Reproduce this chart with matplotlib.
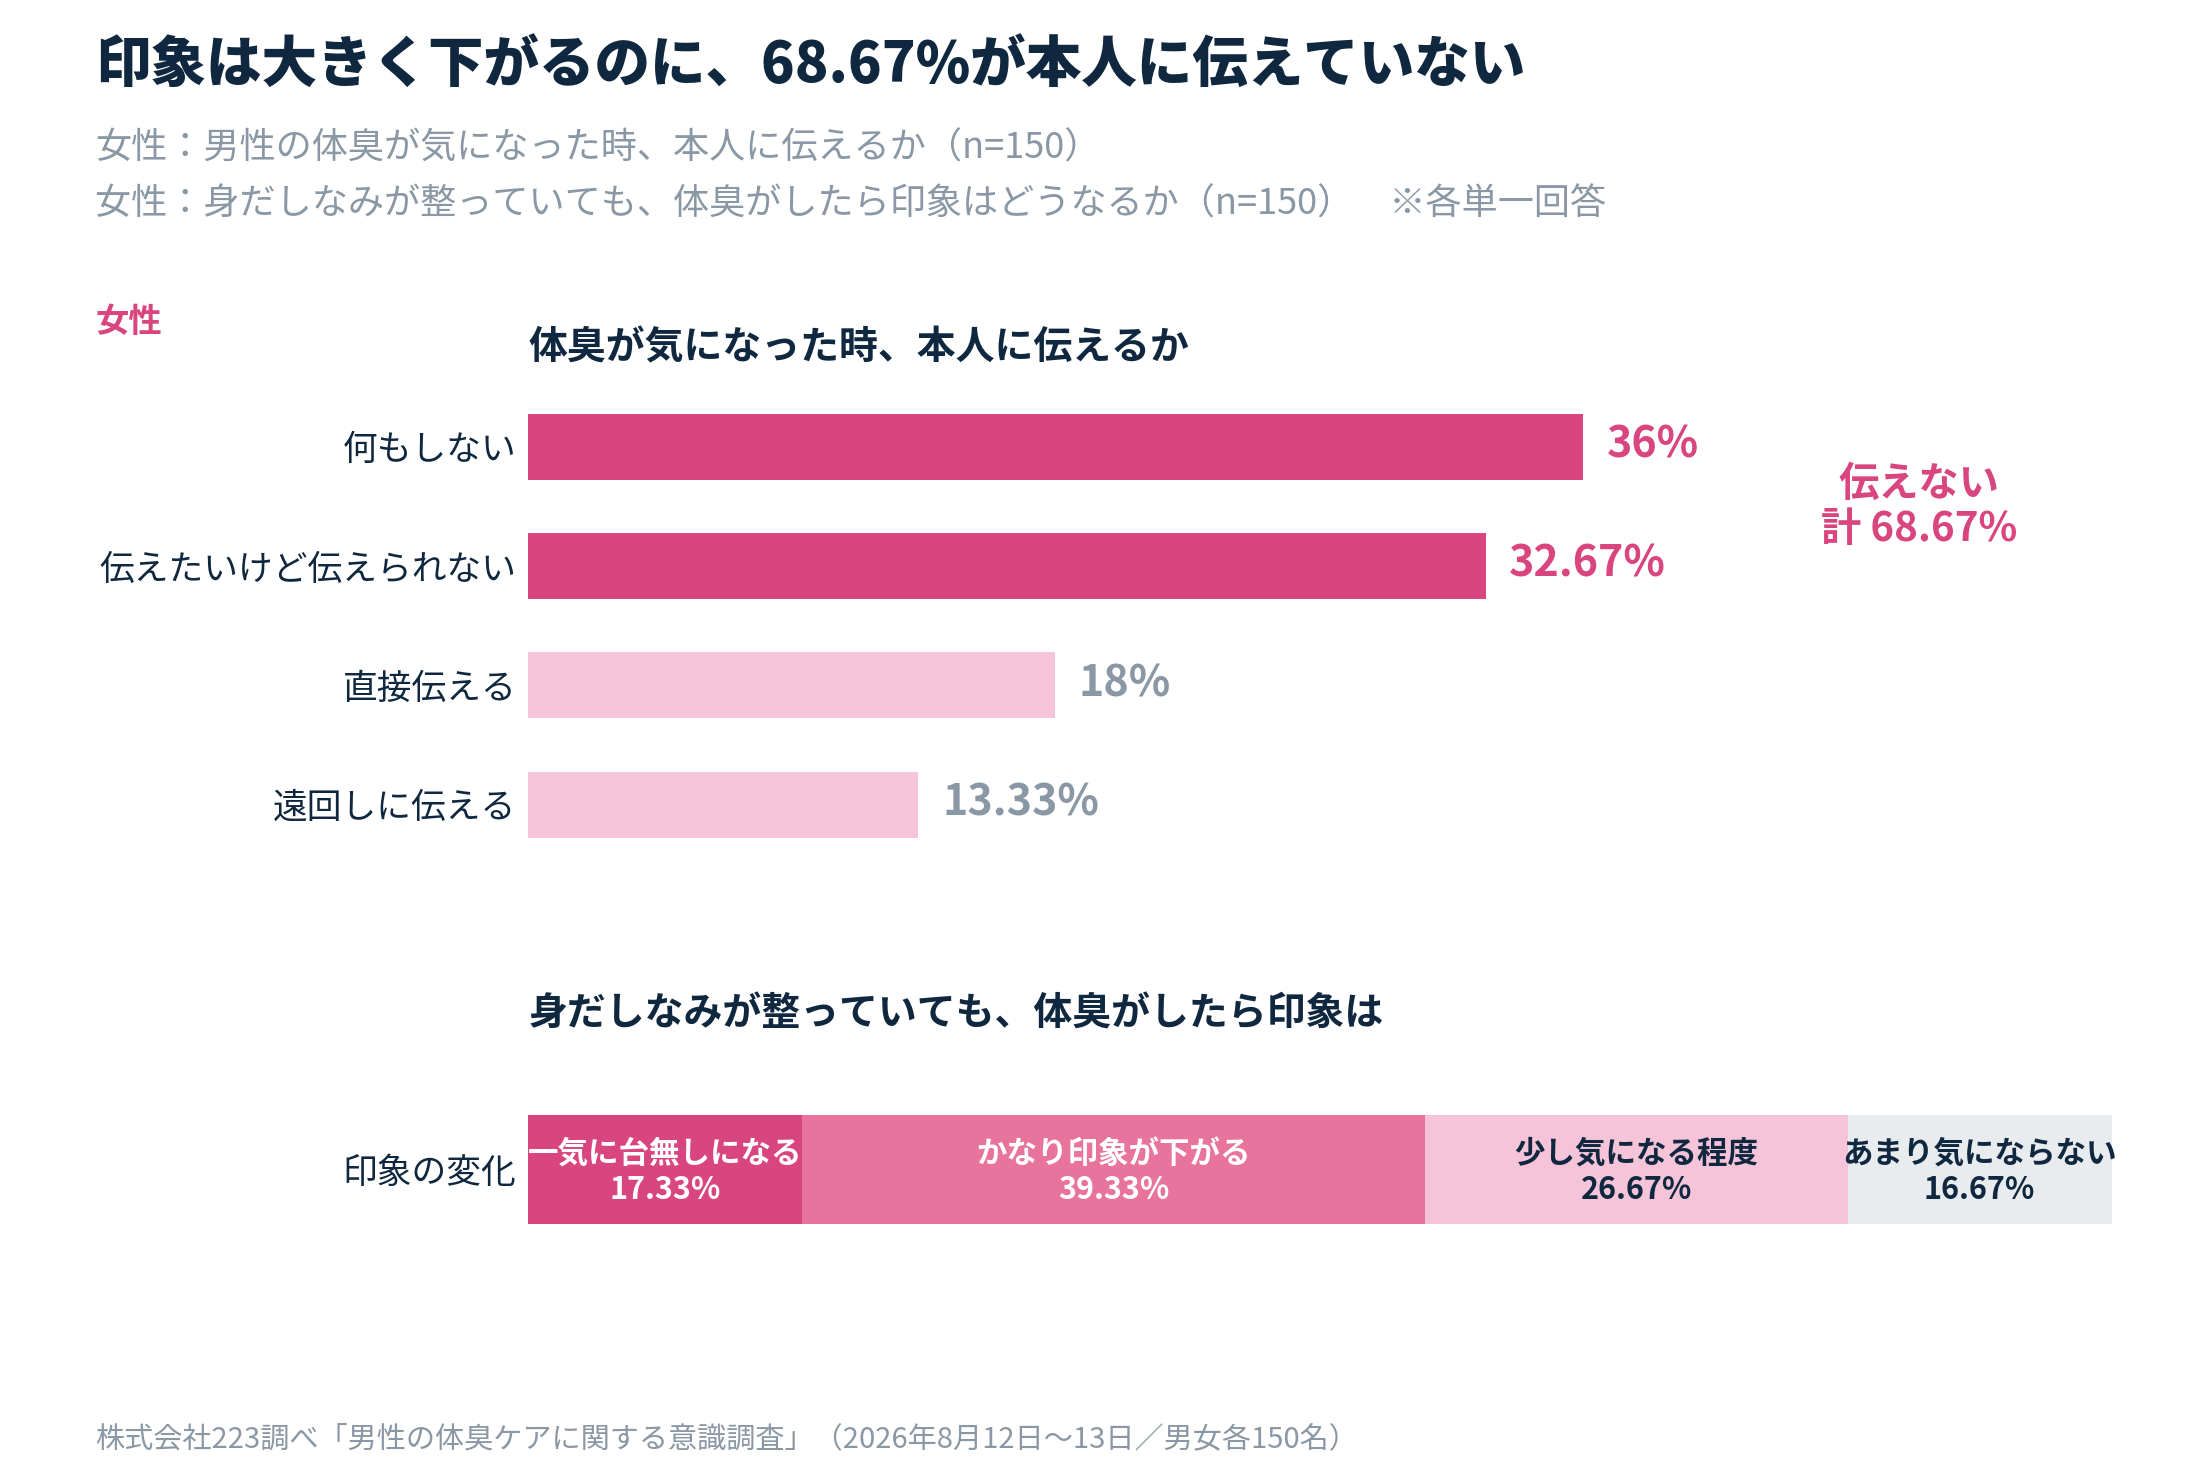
import matplotlib
matplotlib.use('Agg')
import matplotlib.pyplot as plt

plt.rcParams['font.family'] = ['Noto Sans CJK JP', 'DejaVu Sans']

# data
q1_labels = ['何もしない', '伝えたいけど伝えられない', '直接伝える', '遠回しに伝える']
q1_values = [36, 32.67, 18, 13.33]
q1_text = ['36%', '32.67%', '18%', '13.33%']

q2_labels = ['一気に台無しになる', 'かなり印象が下がる', '少し気になる程度', 'あまり気にならない']
q2_values = [17.33, 39.33, 26.67, 16.67]
q2_text = ['17.33%', '39.33%', '26.67%', '16.67%']

NAVY = '#10283f'
GRAY = '#8a97a4'
PINK = '#d9457f'
PINK2 = '#e8739c'
LPINK = '#f5c4d8'
LGRAY = '#e8ecef'

W, H = 1568, 1054  # layout grid used for placing things


def fx(x):
    return x / W


def fy(y):
    return 1 - y / H


fig = plt.figure(figsize=(22, 14.8), dpi=100)

fig.text(fx(68), fy(47.5), '印象は大きく下がるのに、68.67%が本人に伝えていない',
         fontsize=40, fontweight='heavy', color=NAVY, va='center')
fig.text(fx(68), fy(105.5), '女性：男性の体臭が気になった時、本人に伝えるか（n=150）',
         fontsize=26, color=GRAY, va='center')
fig.text(fx(68), fy(145.5), '女性：身だしなみが整っていても、体臭がしたら印象はどうなるか（n=150）　※各単一回答',
         fontsize=26, color=GRAY, va='center')
fig.text(fx(68), fy(230), '女性', fontsize=24, fontweight='bold', color=PINK, va='center')
fig.text(fx(377), fy(247.5), '体臭が気になった時、本人に伝えるか',
         fontsize=28, fontweight='bold', color=NAVY, va='center')
fig.text(fx(377), fy(722.5), '身だしなみが整っていても、体臭がしたら印象は',
         fontsize=28, fontweight='bold', color=NAVY, va='center')
fig.text(fx(68), fy(1025), '株式会社223調べ「男性の体臭ケアに関する意識調査」（2026年8月12日～13日／男女各150名）',
         fontsize=21, color=GRAY, va='center')
fig.text(fx(1368), fy(361), '伝えない\n計 68.67%', fontsize=29, fontweight='bold',
         color=PINK, ha='center', va='center', linespacing=1.15)

# top chart
ax1 = fig.add_axes([fx(376), fy(615.5), fx(1129), (615.5 - 275.5) / H])
pos = list(range(len(q1_labels)))
colors1 = [PINK, PINK, LPINK, LPINK]
tcolors1 = [PINK, PINK, GRAY, GRAY]
ax1.barh(pos, q1_values, height=47 / 85, color=colors1)
for p, v, t, c in zip(pos, q1_values, q1_text, tcolors1):
    ax1.annotate(t, (v, p), xytext=(17, 1.5), textcoords='offset points',
                 ha='left', va='center', fontsize=31, fontweight='bold', color=c)
ax1.set_xlim(0, 1129 / 20.9)
ax1.set_ylim(3.5, -0.5)
ax1.set_yticks(pos, q1_labels, fontsize=25, color=NAVY)
ax1.tick_params(axis='y', length=0, pad=8)
ax1.set_xticks([])
for s in ax1.spines.values():
    s.set_visible(False)

# bottom stacked bar
ax2 = fig.add_axes([fx(376), fy(872), fx(1129), 78 / H])
colors2 = [PINK, PINK2, LPINK, LGRAY]
tcolors2 = ['white', 'white', NAVY, NAVY]
left = 0
for v, lab, t, c, tc in zip(q2_values, q2_labels, q2_text, colors2, tcolors2):
    ax2.barh(0, v, left=left, height=1, color=c)
    ax2.text(left + v / 2, -0.02, lab + '\n' + t, ha='center', va='center',
             fontsize=22, fontweight='bold', color=tc, linespacing=1.15)
    left += v
ax2.set_xlim(0, 100)
ax2.set_ylim(-0.5, 0.5)
ax2.set_yticks([0], ['印象の変化'], fontsize=25, color=NAVY)
ax2.tick_params(axis='y', length=0, pad=8)
ax2.set_xticks([])
for s in ax2.spines.values():
    s.set_visible(False)

fig.savefig('out.png', dpi=100)
